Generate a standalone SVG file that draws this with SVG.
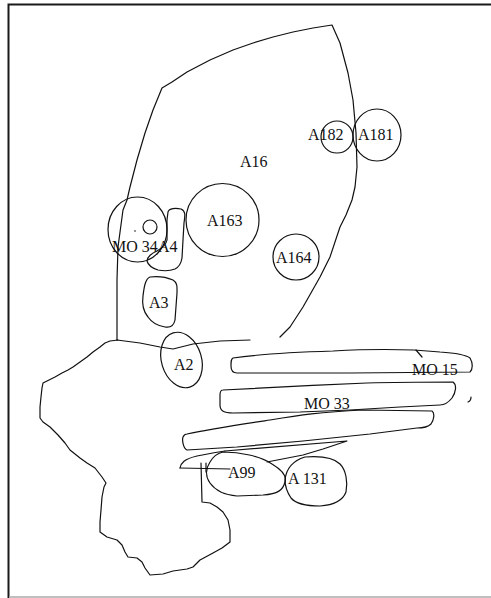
<svg xmlns="http://www.w3.org/2000/svg" width="491" height="598" viewBox="0 0 491 598">
  <style>
    .ln { fill: none; stroke: #111; stroke-width: 1.2; stroke-linejoin: round; stroke-linecap: round; }
    .lbl { font-family: "Liberation Serif", "Times New Roman", serif; font-size: 16px; fill: #111; }
    .frame { fill: none; stroke: #1a1a1a; stroke-width: 2; }
  </style>
  <rect width="491" height="598" fill="#fff"/>

  <!-- page frame -->
  <g id="frame">
    <path class="frame" d="M8.5,598 L8.5,4.5 L491,4.5"/>
    <path d="M9,597 L491,597" fill="none" stroke="#aaa" stroke-width="1.5"/>
  </g>

  <!-- boundary lines -->
  <g id="connectors">
    <!-- upper region outline (A16) -->
    <path class="ln" d="M117,340 L117,280 L118,247 L123,210 L127,200 L130,187 L137,160 L145,133 L153,110 L162,88 L172,82 L187,72 L210,60 L233,50 L253,43 L273,37 L293,32 L313,28 L332,25 L340,43 L348,73 L353,100 L356,133 L357,167 L355,187 L352,200 L346,215 L340,227 L330,257 L320,277 L303,307 L290,327 L280,337"/>
    <path class="ln" d="M117,340 L140,343 L160,347 L173,349 L193,344 L220,341 L250,340"/>
    <!-- lower-left region outline -->
    <path class="ln" d="M118,340 L110,341 L105,343 L100,347 L93,352 L87,357 L80,362 L73,367 L68,370 L62,373 L55,377 L47,381 L43,383 L42,388 L41,397 L40,407 L40,418 L43,422 L50,427 L58,435 L65,443 L70,450 L80,458 L87,463 L95,468 L102,477 L106,483 L104,487 L102,497 L101,510 L100,522 L100,532 L107,537 L117,540 L122,545 L125,552 L128,557 L137,558 L142,562 L145,568 L150,575 L163,574 L173,571 L187,569 L193,567 L200,560 L213,553 L222,548 L230,542 L230,530 L228,520 L223,512 L217,507 L210,503 L202,502 L201,463"/>
    <path class="ln" d="M206,463 L206,472"/>
    <!-- small lobe beside A99 -->
    <path class="ln" d="M180,468 C181,463 184,459 197,456 C207,454 217,452 225,451"/>
    <path class="ln" d="M180,468 L230,469"/>
    <!-- thin wedge -->
    <path class="ln" d="M225,451 L347,441 L323,449 L303,455 L267,462"/>
  </g>

  <g id="A16"><text class="lbl" x="240" y="167">A16</text></g>

  <g id="A182">
    <circle class="ln" cx="337" cy="137" r="16"/>
    <text class="lbl" x="308" y="140">A182</text>
  </g>

  <g id="A181">
    <ellipse class="ln" cx="377" cy="135" rx="24" ry="26"/>
    <text class="lbl" x="358" y="140">A181</text>
  </g>

  <g id="A163">
    <circle class="ln" cx="222.5" cy="220" r="36.5"/>
    <text class="lbl" x="207" y="226">A163</text>
  </g>

  <g id="A164">
    <circle class="ln" cx="296" cy="257" r="23"/>
    <text class="lbl" x="276" y="263">A164</text>
  </g>

  <g id="MO34">
    <ellipse class="ln" cx="137.5" cy="229.5" rx="29.5" ry="32.5"/>
    <circle class="ln" cx="150" cy="227" r="7"/>
    <circle cx="135" cy="231" r="0.8" fill="#111"/>
    <text class="lbl" x="112" y="252">MO 34</text>
  </g>

  <g id="A4">
    <path class="ln" d="M168,212 C169,208 176,208 181,209 C186,211 185,216 184,223 L183,240 L182,258 C181,264 179,267 175,269 C170,271 163,271 158,270 C152,268 148,265 147,261 C147,257 152,253 157,251 C162,248 166,245 167,240 L167,220 Z"/>
    <text class="lbl" x="158" y="252">A4</text>
  </g>

  <g id="A3">
    <path class="ln" d="M150,277 C158,276 166,277 173,280 C178,283 177,288 177,293 L175,320 C174,325 171,328 165,327 C159,326 152,323 148,317 C143,311 142,303 143,296 C144,288 145,279 150,277 Z"/>
    <text class="lbl" x="149" y="308">A3</text>
  </g>

  <g id="A2">
    <ellipse class="ln" cx="181.5" cy="360" rx="20" ry="28.3" transform="rotate(-17 181.5 360)"/>
    <text class="lbl" x="174" y="370">A2</text>
  </g>

  <g id="MO15">
    <path class="ln" d="M233,358 C260,354 300,352 333,351 C370,349 410,349 440,352 C455,353 466,355 470,358 C473,363 473,369 470,372 L350,373 L237,373 C232,373 231,370 231,366 C231,361 231,359 233,358 Z"/>
    <path class="ln" d="M416,350 L422,357"/>
    <path class="ln" d="M468,402 C471,401 471,399 471,397"/>
    <text class="lbl" x="412" y="375">MO 15</text>
  </g>

  <g id="MO33">
    <path class="ln" d="M223,390 C260,388 320,385 367,383 C400,382 430,382 453,382 C457,385 456,392 452,398 C448,403 443,405 440,405 L400,407 L350,410 L300,412 L233,413 C224,413 220,411 220,405 L220,395 C220,391 221,390 223,390 Z"/>
    <path class="ln" d="M187,434 C210,429 237,425 270,420 C300,415 320,412 363,410 L432,411 C435,413 434,420 431,424 C428,427 422,428 417,428 L370,434 L303,441 L237,447 L187,450 C183,448 182,440 183,437 C184,435 185,434 187,434 Z"/>
    <text class="lbl" x="304" y="409">MO 33</text>
  </g>

  <g id="A99">
    <path class="ln" d="M223,452 C240,452 260,456 272,464 C282,470 287,476 285,482 C283,490 278,494 263,495 L237,496 C225,495 215,490 210,483 C205,476 206,468 210,462 C213,457 218,453 223,452 Z"/>
    <text class="lbl" x="228" y="478">A99</text>
  </g>

  <g id="A131">
    <path class="ln" d="M285,480 C286,470 292,461 305,457 C318,456 333,457 340,464 C346,470 348,482 346,492 C343,500 336,505 320,506 C306,506 296,504 291,498 C287,492 285,486 285,480 Z"/>
    <text class="lbl" x="288" y="484">A 131</text>
  </g>
</svg>
